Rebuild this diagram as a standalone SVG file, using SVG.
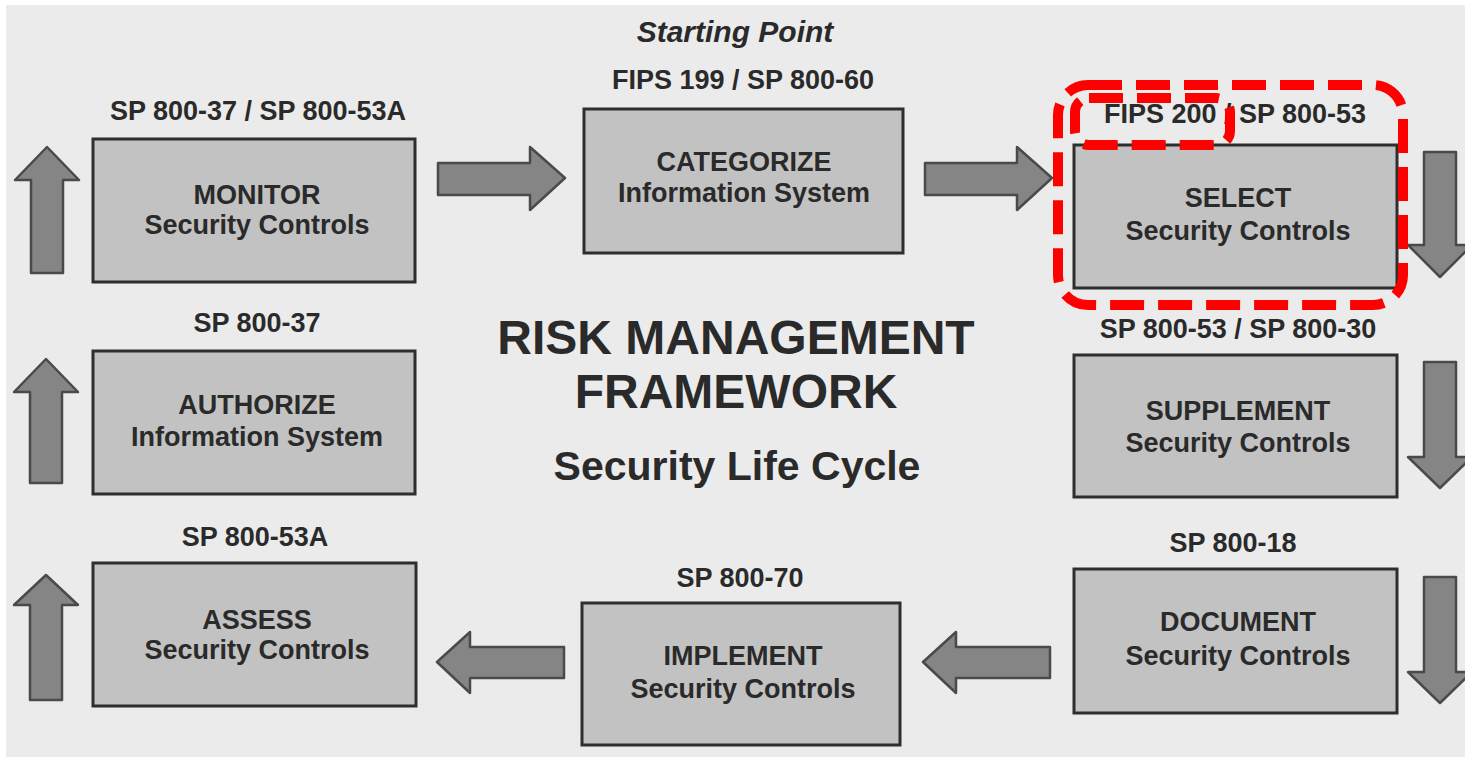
<svg xmlns="http://www.w3.org/2000/svg" width="1465" height="761" viewBox="0 0 1465 761">
<style>
.bg{fill:#ebebeb}
.box{fill:#c2c2c2;stroke:#2e2e2e;stroke-width:3}
.t{font-family:"Liberation Sans",Arial,sans-serif;font-weight:bold;fill:#2a2a2a;text-anchor:middle}
.lbl{font-size:27px}
.bt{font-size:27px}
.arr{fill:#858585;stroke:#4a4a4a;stroke-width:2.5;stroke-linejoin:round}
.hl{fill:none;stroke:#ff0000;stroke-width:10;stroke-dasharray:34 14}
</style>
<rect width="1465" height="761" fill="#ffffff"/>
<rect class="bg" x="6" y="5" width="1459" height="752"/>

<text class="t" x="735" y="42" font-size="30" font-style="italic">Starting Point</text>

<g id="center-title">
<text class="t" x="736" y="354" font-size="48">RISK MANAGEMENT</text>
<text class="t" x="736" y="408" font-size="48">FRAMEWORK</text>
<text class="t" x="737" y="480" font-size="41">Security Life Cycle</text>
</g>

<g id="connectors">
<path class="arr" d="M438,163 H530 V147 L565,178 L530,210 V195 H438 Z"/>
<path class="arr" d="M925,163 H1017 V147 L1052,178 L1017,210 V195 H925 Z"/>
<path class="arr" d="M1424,152 H1456 V245 H1472 L1440,277 L1408,245 H1424 Z"/>
<path class="arr" d="M1424,362 H1456 V457 H1472 L1440,488 L1408,457 H1424 Z"/>
<path class="arr" d="M1424,577 H1456 V672 H1472 L1440,703 L1408,672 H1424 Z"/>
<path class="arr" d="M564,647 H470 V632 L437,662 L470,693 V678 H564 Z"/>
<path class="arr" d="M1050,647 H956 V632 L923,662 L956,693 V678 H1050 Z"/>
<path class="arr" d="M30,700 V605 H14 L46,575 L78,605 H62 V700 Z"/>
<path class="arr" d="M30,483 V392 H14 L46,359 L78,392 H62 V483 Z"/>
<path class="arr" d="M31,273 V180 H15 L47,147 L79,180 H63 V273 Z"/>
</g>

<g id="monitor">
<text class="t lbl" x="258" y="120">SP 800-37 / SP 800-53A</text>
<rect class="box" x="93" y="139" width="322" height="143"/>
<text class="t bt" x="257" y="204">MONITOR</text>
<text class="t bt" x="257" y="234">Security Controls</text>
</g>

<g id="categorize">
<text class="t lbl" x="743" y="89">FIPS 199 / SP 800-60</text>
<rect class="box" x="584" y="109" width="319" height="144"/>
<text class="t bt" x="744" y="171">CATEGORIZE</text>
<text class="t bt" x="744" y="202">Information System</text>
</g>

<g id="select">
<text class="t lbl" x="1235" y="123">FIPS 200 / SP 800-53</text>
<rect class="box" x="1074" y="145" width="323" height="143"/>
<text class="t bt" x="1238" y="207">SELECT</text>
<text class="t bt" x="1238" y="240">Security Controls</text>
</g>

<g id="authorize">
<text class="t lbl" x="257" y="332">SP 800-37</text>
<rect class="box" x="93" y="351" width="322" height="143"/>
<text class="t bt" x="257" y="414">AUTHORIZE</text>
<text class="t bt" x="257" y="446">Information System</text>
</g>

<g id="supplement">
<text class="t lbl" x="1238" y="338">SP 800-53 / SP 800-30</text>
<rect class="box" x="1074" y="355" width="323" height="142"/>
<text class="t bt" x="1238" y="420">SUPPLEMENT</text>
<text class="t bt" x="1238" y="452">Security Controls</text>
</g>

<g id="assess">
<text class="t lbl" x="255" y="546">SP 800-53A</text>
<rect class="box" x="93" y="563" width="323" height="143"/>
<text class="t bt" x="257" y="629">ASSESS</text>
<text class="t bt" x="257" y="659">Security Controls</text>
</g>

<g id="implement">
<text class="t lbl" x="740" y="587">SP 800-70</text>
<rect class="box" x="582" y="603" width="318" height="142"/>
<text class="t bt" x="743" y="665">IMPLEMENT</text>
<text class="t bt" x="743" y="698">Security Controls</text>
</g>

<g id="document">
<text class="t lbl" x="1233" y="552">SP 800-18</text>
<rect class="box" x="1074" y="569" width="323" height="144"/>
<text class="t bt" x="1238" y="631">DOCUMENT</text>
<text class="t bt" x="1238" y="665">Security Controls</text>
</g>

<g id="highlight">
<rect class="hl" x="1058" y="85" width="345" height="220" rx="30"/>
<rect class="hl" x="1075" y="98" width="155" height="47" rx="14"/>
</g>
</svg>
